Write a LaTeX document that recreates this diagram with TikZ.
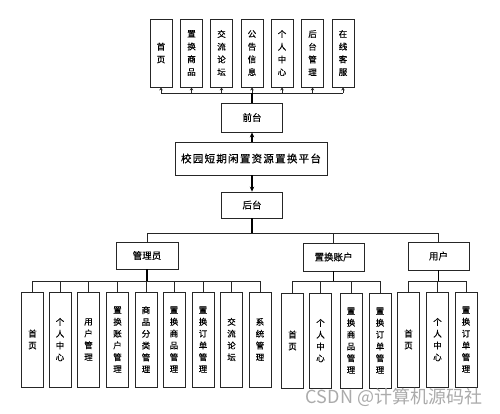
\documentclass[tikz,border=0pt]{standalone}
\usepackage{fontspec}
\newfontfamily\cjk[FakeBold=0.4]{Noto Sans CJK SC}
\newfontfamily\cjkwide[FakeBold=0.4,LetterSpace=12]{Noto Sans CJK SC}
\newfontfamily\cjkmark{Noto Sans CJK SC}
\usetikzlibrary{arrows.meta}
\begin{document}
\begin{tikzpicture}[x=1pt,y=-1pt,
  box/.style={draw=black!85,line width=0.8pt,fill=white,inner sep=0pt,align=center},
  midbox/.style={box,minimum width=61pt,minimum height=28pt,font=\cjk\fontsize{9.5}{12}\selectfont},
  topv/.style={box,minimum width=22pt,minimum height=68pt,font=\cjk\fontsize{8.5}{12.7}\selectfont},
  botv/.style={box,minimum width=22pt,minimum height=95pt,font=\cjk\fontsize{8.5}{11.8}\selectfont},
  conn/.style={draw=black!85,line width=0.8pt},
  stem/.style={draw=black,line width=1.2pt},
  smallarrow/.style={conn,-{Stealth[length=3pt,width=3.5pt]}},
  bigarrow/.style={stem,-{Stealth[length=5pt,width=4.5pt]}},
  wm/.style={text=black!33,font=\cjkmark\fontsize{18}{20}\selectfont,inner sep=0pt}]
\useasboundingbox[fill=white] (0,0) rectangle (500,413);

% top row
\node[topv] (t1) at (161,53) {首\\页};
\node[topv] (t2) at (191.5,53) {置\\换\\商\\品};
\node[topv] (t3) at (221.5,53) {交\\流\\论\\坛};
\node[topv] (t4) at (252,53) {公\\告\\信\\息};
\node[topv] (t5) at (282,53) {个\\人\\中\\心};
\node[topv] (t6) at (312.5,53) {后\\台\\管\\理};
\node[topv] (t7) at (343,53) {在\\线\\客\\服};
\coordinate (topbus) at (252,93);

% middle column
\node[midbox,minimum height=29pt] (front) at (252,117.5) {前台};
\node[box,minimum width=152pt,minimum height=33pt,font=\cjkwide\fontsize{10.5}{12}\selectfont] (main) at (251,158.5) {校园短期闲置资源置换平台};
\node[midbox,minimum height=26pt] (back) at (252,205) {后台};
\coordinate (midbus) at (252,233);

% second level
\node[midbox,minimum width=62pt,minimum height=27pt] (admin) at (147,255.5) {管理员};
\node[midbox] (acct) at (333.5,257) {置换账户};
\node[midbox] (user) at (438.5,256) {用户};
\coordinate (subbus) at (252,281);

% admin children
\node[botv] (a1) at (32.5,339.5) {首\\页};
\node[botv] (a2) at (60,339.5) {个\\人\\中\\心};
\node[botv] (a3) at (88.5,339.5) {用\\户\\管\\理};
\node[botv] (a4) at (117.5,339.5) {置\\换\\账\\户\\管\\理};
\node[botv] (a5) at (146,339.5) {商\\品\\分\\类\\管\\理};
\node[botv] (a6) at (174,339.5) {置\\换\\商\\品\\管\\理};
\node[botv] (a7) at (203,339.5) {置\\换\\订\\单\\管\\理};
\node[botv] (a8) at (231.5,339.5) {交\\流\\论\\坛};
\node[botv] (a9) at (260,339.5) {系\\统\\管\\理};

% account children
\node[botv] (b1) at (292.5,340.5) {首\\页};
\node[botv] (b2) at (320.5,340.5) {个\\人\\中\\心};
\node[botv] (b3) at (351,340.5) {置\\换\\商\\品\\管\\理};
\node[botv] (b4) at (380,340.5) {置\\换\\订\\单\\管\\理};

% user children
\node[botv] (c1) at (408.5,339.5) {首\\页};
\node[botv] (c2) at (437.5,339.5) {个\\人\\中\\心};
\node[botv] (c3) at (466,339.5) {置\\换\\订\\单\\管\\理};

% top connectors
\draw[conn] (t1.south |- topbus) -- (t7.south |- topbus);
\foreach \n in {t1,t2,t3,t4,t5,t6,t7}
  \draw[smallarrow] (\n.south |- topbus) -- (\n.south);
\draw[stem] (front.north) -- (front.north |- topbus);
\draw[bigarrow] (main.north -| front) -- (front.south);
\draw[bigarrow] (main.south -| back) -- (back.north);

% level two connectors
\draw[stem] (back.south) -- (midbus);
\draw[conn] (admin.north |- midbus) -- (user.north |- midbus);
\draw[conn] (admin.north |- midbus) -- (admin.north);
\draw[conn] (acct.north |- midbus) -- (acct.north);
\draw[conn] (user.north |- midbus) -- (user.north);

% admin sub
\draw[stem] (admin.south) -- (admin.south |- subbus);
\draw[conn] (a1.north |- subbus) -- (a9.north |- subbus);
\foreach \n in {a1,a2,a3,a4,a5,a6,a7,a8,a9}
  \draw[conn] (\n.north |- subbus) -- (\n.north);

% account sub
\draw[stem] (acct.south) -- (acct.south |- subbus);
\draw[conn] (b1.north |- subbus) -- (b4.north |- subbus);
\foreach \n in {b1,b2,b3,b4}
  \draw[conn] (\n.north |- subbus) -- (\n.north);

% user sub
\draw[stem] (user.south) -- (user.south |- subbus);
\draw[conn] (c1.north |- subbus) -- (c3.north |- subbus);
\foreach \n in {c1,c2,c3}
  \draw[conn] (\n.north |- subbus) -- (\n.north);

% watermark
\node[wm] (mark) at (394,397) {CSDN @计算机源码社};
\end{tikzpicture}
\end{document}
